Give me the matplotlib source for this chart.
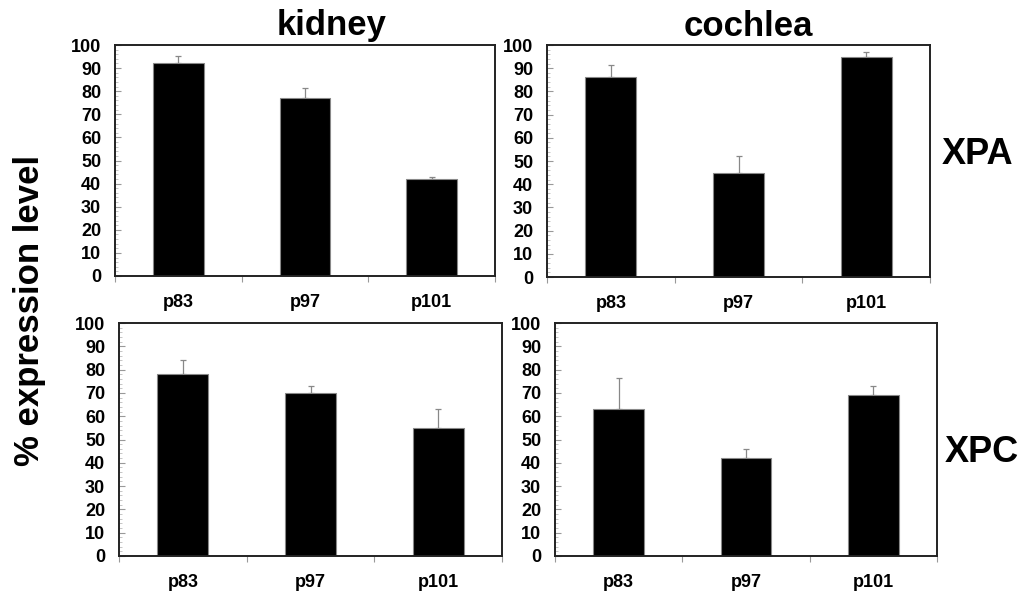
import numpy as np
import matplotlib
matplotlib.use('Agg')
import matplotlib.pyplot as plt
from matplotlib.ticker import MultipleLocator, FixedLocator

plt.rcParams['font.family'] = ['Liberation Sans', 'DejaVu Sans']
plt.rcParams['font.weight'] = 'bold'

ages = ['p83', 'p97', 'p101']

kidney_xpa = [92, 77, 42]
kidney_xpa_err = [3.2, 4.3, 1.0]
cochlea_xpa = [86, 45, 95]
cochlea_xpa_err = [5.2, 7.2, 2.0]
kidney_xpc = [78, 70, 55]
kidney_xpc_err = [6.0, 3.0, 8.0]
cochlea_xpc = [63, 42, 69]
cochlea_xpc_err = [13.3, 4.0, 4.0]

W, H = 1025, 597
fig = plt.figure(figsize=(W / 100, H / 100), dpi=100)

def box(x0, y0, x1, y1):
    # pixel box -> figure fraction
    return [x0 / W, 1 - y1 / H, (x1 - x0) / W, (y1 - y0) / H]

panels = [
    (box(115, 45, 495, 276), kidney_xpa, kidney_xpa_err),
    (box(547, 45, 930, 277), cochlea_xpa, cochlea_xpa_err),
    (box(119, 323, 502, 556), kidney_xpc, kidney_xpc_err),
    (box(555, 323, 937, 556), cochlea_xpc, cochlea_xpc_err),
]

axes = []
for rect, vals, errs in panels:
    ax = fig.add_axes(rect)
    x = np.arange(len(ages))
    ax.bar(x, vals, width=0.4, color='black', edgecolor='#888888', linewidth=0.8, zorder=2)
    ax.errorbar(x, vals, yerr=[np.zeros(len(errs)), errs], fmt='none',
                ecolor='#888888', elinewidth=0.9, capsize=2, capthick=0.9, zorder=1)
    ax.set_xlim(-0.5, 2.5)
    ax.set_ylim(0, 100)
    ax.yaxis.set_major_locator(MultipleLocator(10))
    ax.yaxis.set_minor_locator(MultipleLocator(2))
    ax.tick_params(axis='y', which='major', direction='in', length=4, color='#999999',
                   labelsize=13, pad=10)
    ax.tick_params(axis='y', which='minor', direction='in', length=2.5, color='#bbbbbb')
    ax.xaxis.set_major_locator(FixedLocator([-0.5, 0.5, 1.5, 2.5]))
    ax.set_xticks(x, minor=True)
    ax.set_xticklabels(ages, minor=True, fontsize=13, fontweight='bold')
    ax.tick_params(axis='x', which='major', direction='out', length=4, color='#999999',
                   labelbottom=False)
    ax.tick_params(axis='x', which='minor', length=0, pad=13)
    for lab in ax.get_yticklabels():
        lab.set_fontweight('bold')
    for s in ax.spines.values():
        s.set_linewidth(1.4)
        s.set_color('#222222')
    axes.append(ax)

fig.text(332 / W, 1 - 26 / H, 'kidney', ha='center', va='center', fontsize=25, fontweight='bold')
fig.text(748 / W, 1 - 26 / H, 'cochlea', ha='center', va='center', fontsize=25, fontweight='bold')
fig.text(977 / W, 1 - 155 / H, 'XPA', ha='center', va='center', fontsize=26, fontweight='bold')
fig.text(982 / W, 1 - 452 / H, 'XPC', ha='center', va='center', fontsize=26, fontweight='bold')
fig.text(30 / W, 1 - 310 / H, '% expression level', ha='center', va='center', rotation=90,
         fontsize=25, fontweight='bold')

fig.savefig('out.png', dpi=100, facecolor='white')
